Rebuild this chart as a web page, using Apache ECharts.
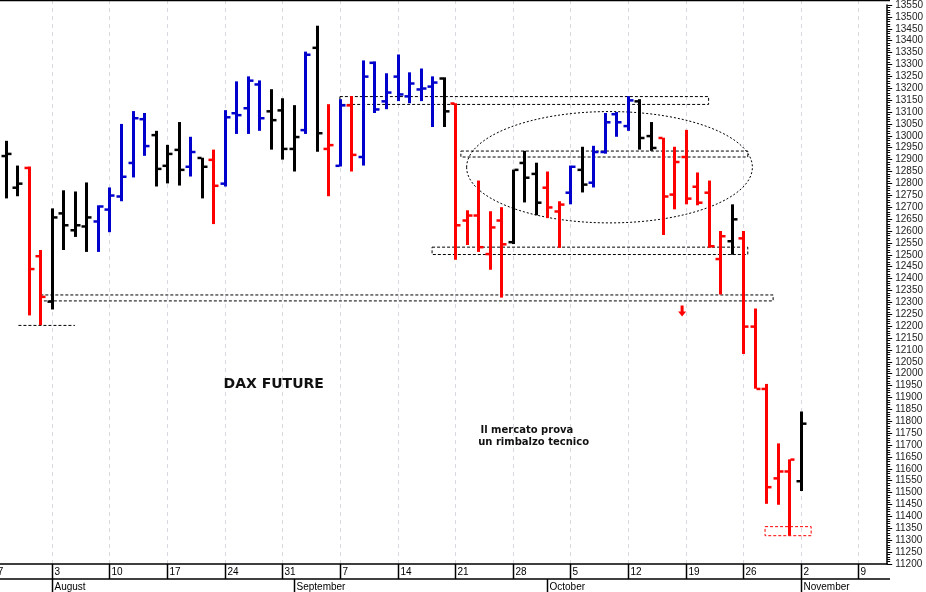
<!DOCTYPE html>
<html><head><meta charset="utf-8">
<script src="https://cdn.jsdelivr.net/npm/echarts@6/dist/echarts.min.js"></script>
<style>html,body{margin:0;padding:0;background:#fff}#c{width:926px;height:592px}</style>
</head><body><div id="c"></div>
<script>
// trading days (Jul 28 2020 .. Nov 11 2020)
const dates = ["07-28","07-29","07-30","07-31",
"08-03","08-04","08-05","08-06","08-07","08-10","08-11","08-12","08-13","08-14","08-17","08-18","08-19","08-20","08-21","08-24","08-25","08-26","08-27","08-28","08-31",
"09-01","09-02","09-03","09-04","09-07","09-08","09-09","09-10","09-11","09-14","09-15","09-16","09-17","09-18","09-21","09-22","09-23","09-24","09-25","09-28","09-29","09-30",
"10-01","10-02","10-05","10-06","10-07","10-08","10-09","10-12","10-13","10-14","10-15","10-16","10-19","10-20","10-21","10-22","10-23","10-26","10-27","10-28","10-29","10-30",
"11-02","11-03","11-04","11-05","11-06","11-09","11-10","11-11"];
const opens  = [12916,12783,12866,12495,12304,12675,12604,12620,12641,12691,12746,12887,13071,13004,12875,12942,12871,12908,12900,12800,13096,13117,13217,13104,13108,12946,13025,13371,12946,12875,13129,12912,13308,13146,13250,13167,13196,13208,13242,13137,12645,12666,12504,12645,12554,12887,12841,12783,12683,12762,12858,12804,12933,13092,13042,13146,13000,12992,12754,12912,12787,12762,12483,12558,12570,12199,11937,11561,11590,11549];
const highs  = [12979,12875,12871,12520,12695,12771,12766,12804,12708,12783,13050,13104,13096,13021,12962,13058,12996,12908,12942,13108,13229,13250,13233,13196,13158,13129,13354,13463,13133,13154,13167,13317,13313,13263,13342,13267,13283,13250,13246,13137,12687,12812,12683,12700,12858,12937,12887,12850,12725,12875,12954,12958,13096,13100,13167,13154,13058,12992,12954,13025,12846,12812,12600,12712,12600,12274,11957,11707,11640,11841];
const lows   = [12737,12746,12245,12204,12270,12520,12575,12512,12512,12595,12725,12825,12916,12787,12800,12791,12829,12737,12629,12787,13008,13008,13021,12942,12900,12850,13008,12933,12746,12871,12850,12875,13096,13112,13146,13137,13146,13037,13037,12479,12541,12512,12437,12320,12545,12720,12666,12654,12529,12712,12762,12783,12925,12996,13021,12942,12937,12583,12691,12712,12708,12529,12333,12500,12083,11937,11453,11449,11319,11507];
const closes = [12925,12800,12441,12324,12658,12625,12625,12658,12704,12750,12829,13075,12958,12862,12925,12858,12933,12871,12791,13079,13088,13233,13075,13067,12946,12996,13342,13012,12962,13129,12921,13250,13112,13183,13175,13221,13200,13225,13104,12625,12666,12533,12616,12545,12858,12825,12720,12700,12712,12871,12796,12933,13058,13058,13150,12992,12950,12746,12891,12737,12720,12537,12579,12650,12199,11937,11524,11590,11640,11791];
const barColors = "kkrrkkkkbbbbbkkkbkrbbbbkkkbkrbrbbbbbbbkrrrrrkkkrrbkbbbbkkrrrrrrkrrrrrk";
// annotations in data coords [index, value]
const boxes = [[29.0,13165,61.0,13132],[39.5,12936,64.4,12911],[37.0,12532,64.4,12501],[3.0,12331,66.6,12306]];
const redBox = [65.9,11357,69.9,11319];
const lowLine = [1.1,12203,6.0,12203];
const ellipse = {cx:52.4,cy:12868,rx:12.4,ry:13102};
const arrowAt = [58.7,12240];
const texts = [{t:"DAX FUTURE",i:18.9,v:11955,size:14},{t:"Il mercato prova",i:41.2,v:11760,size:10},{t:"un rimbalzo tecnico",i:41.0,v:11710,size:10}];
const colorMap = {k:"#000000",b:"#0000cc",r:"#ff0000"};
const N = dates.length;
const data = opens.map((o,i)=>[i,o,highs[i],lows[i],closes[i]]);

const chart = echarts.init(document.getElementById('c'));
chart.setOption({
  animation:false,
  grid:{left:0,right:36,top:0,height:564},
  xAxis:{type:'value',min:-0.5,max:N-0.5,axisLine:{show:true,onZero:false,lineStyle:{color:'#000',width:1.5}},axisTick:{show:false},axisLabel:{show:false},splitLine:{show:false}},
  yAxis:{type:'value',position:'right',min:11200,max:13550,interval:50,
    axisLine:{show:true,onZero:false,lineStyle:{color:'#000',width:1.5}},
    axisTick:{show:true,length:5,lineStyle:{color:'#000'}},
    minorTick:{show:true,splitNumber:5,length:3,lineStyle:{color:'#000'}},
    axisLabel:{color:'#222',fontSize:10,fontFamily:'Liberation Sans, Arial',margin:8,showMaxLabel:true,formatter:v=>String(v)},
    splitLine:{show:false}},
  series:[{type:'custom',data:data,encode:{x:0,y:[1,2,3,4]},clip:true,
    renderItem:(p,api)=>{
      const i=api.value(0);
      const c=colorMap[barColors[p.dataIndex]];
      const pO=api.coord([i,api.value(1)]),pH=api.coord([i,api.value(2)]),pL=api.coord([i,api.value(3)]),pC=api.coord([i,api.value(4)]);
      const x=Math.round(pO[0])+0.5;
      return {type:'group',children:[
        {type:'rect',shape:{x:x-1.5,y:pH[1],width:3,height:Math.max(1,pL[1]-pH[1])},style:{fill:c}},
        {type:'rect',shape:{x:x-5,y:pO[1]-1,width:4,height:2.5},style:{fill:c}},
        {type:'rect',shape:{x:x+1,y:pC[1]-1,width:4,height:2.5},style:{fill:c}}
      ]};
    }}]
});

function px(i,v){return chart.convertToPixel({xAxisIndex:0,yAxisIndex:0},[i,v]);}
const g=[];
const dash={stroke:'#000',lineWidth:1,lineDash:[3,2]};
g.push({type:'line',shape:{x1:0,y1:0.5,x2:890,y2:0.5},style:{stroke:'#000',lineWidth:1.5}});
const gridBottom = px(0,11200)[1];
const lblY = gridBottom;
g.push({type:'line',shape:{x1:0,y1:lblY+15,x2:890,y2:lblY+15},style:{stroke:'#000',lineWidth:1.5}});
const monthNames={"08":"August","09":"September","10":"October","11":"November"};
let prevMonth="07";
const xm1 = px(-1,11200)[0];
g.push({type:'text',x:xm1-2,y:lblY+3,style:{text:'27',fill:'#000',font:'10px Liberation Sans, Arial'}});
dates.forEach((d,i)=>{
  const dt=new Date('2020-'+d+'T12:00:00');
  const x=Math.round(px(i,11200)[0])+0.5;
  const m=d.slice(0,2);
  if(dt.getDay()===1){
    g.push({type:'line',z:-1,shape:{x1:x,y1:0,x2:x,y2:gridBottom},style:{stroke:'#d8d8e0',lineWidth:1,lineDash:[4,4]}});
    g.push({type:'line',shape:{x1:x,y1:lblY,x2:x,y2:lblY+15},style:{stroke:'#000',lineWidth:1.5}});
    g.push({type:'text',x:x+2,y:lblY+3,style:{text:String(+d.slice(3)),fill:'#000',font:'10px Liberation Sans, Arial'}});
  }
  if(m!==prevMonth){
    g.push({type:'line',shape:{x1:x,y1:lblY+15,x2:x,y2:592},style:{stroke:'#000',lineWidth:1.5}});
    g.push({type:'text',x:x+2,y:lblY+18,style:{text:monthNames[m],fill:'#000',font:'10px Liberation Sans, Arial'}});
    prevMonth=m;
  }
});
boxes.forEach(b=>{const a=px(b[0],b[1]),c=px(b[2],b[3]);
  g.push({type:'rect',shape:{x:a[0],y:a[1],width:c[0]-a[0],height:c[1]-a[1]},style:Object.assign({fill:null},dash)});});
{const a=px(redBox[0],redBox[1]),c=px(redBox[2],redBox[3]);
 g.push({type:'rect',shape:{x:a[0],y:a[1],width:c[0]-a[0],height:c[1]-a[1]},style:{fill:null,stroke:'#ff0000',lineWidth:1,lineDash:[3,2]}});}
{const a=px(lowLine[0],lowLine[1]),c=px(lowLine[2],lowLine[3]);
 g.push({type:'line',shape:{x1:a[0],y1:a[1],x2:c[0],y2:c[1]},style:dash});}
{const c=px(ellipse.cx,ellipse.cy),r=px(ellipse.cx+ellipse.rx,ellipse.ry);
 g.push({type:'ellipse',shape:{cx:c[0],cy:c[1],rx:r[0]-c[0],ry:c[1]-r[1]},style:{fill:null,stroke:'#000',lineWidth:1,lineDash:[2,2]}});}
{const a=px(arrowAt[0],arrowAt[1]);
 g.push({type:'polygon',shape:{points:[[a[0]-1.5,a[1]-11],[a[0]+1.5,a[1]-11],[a[0]+1.5,a[1]-5],[a[0]+4,a[1]-5],[a[0],a[1]],[a[0]-4,a[1]-5],[a[0]-1.5,a[1]-5]]},style:{fill:'#ff0000'}});}
texts.forEach(t=>{const a=px(t.i,t.v);
  g.push({type:'text',x:a[0],y:a[1],style:{text:t.t,fill:'#111',font:'bold '+t.size+'px DejaVu Sans',textVerticalAlign:'middle'}});});
chart.setOption({graphic:g});
</script></body></html>
